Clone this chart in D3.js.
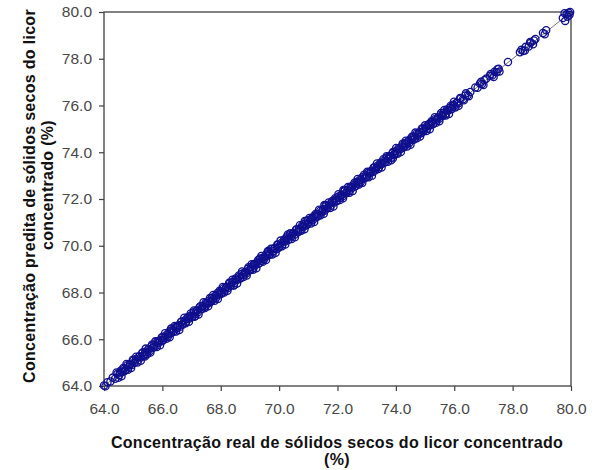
<!DOCTYPE html>
<html>
<head>
<meta charset="utf-8">
<script src="https://cdn.jsdelivr.net/npm/d3@7"></script>
<style>
  html, body { margin: 0; padding: 0; background: #fff; }
  svg { display: block; }
</style>
</head>
<body>
<svg id="chart" width="595" height="470"></svg>
<script>
// Real vs. predicted dry-solids concentration of concentrated liquor (%)
const realValues = [
  64.00,64.05,64.12,64.22,64.30,64.38,64.46,64.52,64.58,64.63,64.69,64.74,64.80,64.84,64.90,64.95,
  65.00,65.05,65.10,65.15,65.21,65.26,65.31,65.36,65.41,65.46,65.52,65.57,65.62,65.67,65.72,65.77,
  65.83,65.88,65.93,65.98,66.03,66.08,66.14,66.19,66.24,66.29,66.34,66.39,66.45,66.50,66.55,66.60,
  66.65,66.70,66.76,66.81,66.86,66.91,66.96,67.01,67.07,67.12,67.17,67.22,67.27,67.32,67.38,67.43,
  67.48,67.53,67.58,67.63,67.69,67.74,67.79,67.84,67.89,67.94,68.00,68.05,68.10,68.15,68.20,68.25,
  68.31,68.36,68.41,68.46,68.51,68.56,68.62,68.67,68.72,68.77,68.82,68.87,68.93,68.98,69.03,69.08,
  69.13,69.18,69.24,69.29,69.34,69.39,69.44,69.49,69.55,69.60,69.65,69.70,69.75,69.80,69.86,69.91,
  69.96,70.01,70.06,70.11,70.17,70.22,70.27,70.32,70.37,70.42,70.48,70.53,70.58,70.63,70.68,70.73,
  70.79,70.84,70.89,70.94,70.99,71.04,71.10,71.15,71.20,71.25,71.30,71.35,71.41,71.46,71.51,71.56,
  71.61,71.66,71.72,71.77,71.82,71.87,71.92,71.97,72.03,72.08,72.13,72.18,72.23,72.28,72.34,72.39,
  72.44,72.49,72.54,72.59,72.65,72.70,72.75,72.80,72.85,72.90,72.96,73.01,73.06,73.11,73.16,73.21,
  73.27,73.32,73.37,73.42,73.47,73.52,73.58,73.63,73.68,73.73,73.78,73.83,73.89,73.94,73.99,74.04,
  74.09,74.14,74.20,74.25,74.30,74.35,74.40,74.45,74.51,74.56,74.61,74.66,74.71,74.76,74.82,74.87,
  74.92,74.97,75.02,75.07,75.13,75.18,75.23,75.28,75.33,75.38,75.44,75.49,75.54,75.59,75.64,75.69,
  75.75,75.80,75.85,75.90,75.96,76.01,76.08,76.14,76.22,76.30,76.38,76.46,
  76.55,76.72,76.80,76.88,76.95,77.03,77.22,77.30,77.38,77.45,77.52,77.84,78.25,78.36,78.45,78.55,
  78.62,78.73,79.04,79.10,79.72,79.80,79.85,79.92,79.97,79.78,
  69.62,70.30,70.88,71.55,72.20,68.45,67.10,73.90,66.30,65.40,
  64.43,64.49,64.55,64.60,64.66,64.71,64.77,64.82,64.88,64.93,64.99,65.04,
  65.10,65.15,65.21,65.26,65.32,65.37,65.43,65.48,65.54,65.59,65.65,65.70,
  65.76,65.81,65.87,65.92,65.98,66.03,66.09,66.14,66.20,66.25,66.31,66.36,
  66.42,66.47,66.53,66.58,66.64,66.69,66.75,66.80,66.86,66.91,66.97,67.02,
  67.08,67.13,67.19,67.24,67.30,67.35,67.41,67.46,67.52,67.57,67.63,67.68,
  67.74,67.79,67.85,67.90,67.96,68.01,68.07,68.12,68.18,68.23,68.29,68.34,
  68.40,68.45,68.51,68.56,68.62,68.67,68.73,68.78,68.84,68.89,68.95,69.00,
  69.06,69.11,69.17,69.22,69.28,69.33,69.39,69.44,69.50,69.55,69.61,69.66,
  69.72,69.77,69.83,69.88,69.94,69.99,70.05,70.10,70.16,70.21,70.27,70.32,
  70.38,70.43,70.49,70.54,70.60,70.65,70.71,70.76,70.82,70.87,70.93,70.98,
  71.04,71.09,71.15,71.20,71.26,71.31,71.37,71.42,71.48,71.53,71.59,71.64,
  71.70,71.75,71.81,71.86,71.92,71.97,72.03,72.08,72.14,72.19,72.25,72.30,
  72.36,72.41,72.47,72.52,72.58,72.63,72.69,72.74,72.80,72.85,72.91,72.96,
  73.02,73.07,73.13,73.18,73.24,73.29,73.35,73.40,73.46,73.51,73.57,73.62,
  73.68,73.73,73.79,73.84,73.90,73.95,74.01,74.06,74.12,74.17,74.23,74.28,
  74.34,74.39,74.45,74.50,74.56,74.61,74.67,74.72,74.78,74.83,74.89,74.94,
  75.00,75.05,75.11,75.16,75.22,75.27,75.33,75.38,75.44,75.49,75.55,75.60,
  75.66,75.71,75.77,75.82,75.88,75.93,75.99,76.04,76.10,76.15,
  76.20,76.33,76.40,76.50,76.92,77.00,77.10,77.25,77.35,77.48,77.55,
  78.30,78.42,78.60,78.70,78.78,79.15,79.88,79.95
];
const predictedValues = [
  64.02,63.99,64.16,64.19,64.36,64.31,64.52,64.47,64.66,64.60,64.74,64.68,64.89,64.81,64.95,64.90,
  65.08,65.02,65.16,65.09,65.27,65.22,65.40,65.30,65.46,65.43,65.58,65.50,65.70,65.64,65.77,65.71,
  65.91,65.85,65.97,65.92,66.11,66.05,66.18,66.12,66.33,66.26,66.38,66.33,66.52,66.47,66.60,66.53,
  66.74,66.67,66.80,66.75,66.94,66.88,67.01,66.95,67.15,67.09,67.22,67.16,67.36,67.29,67.42,67.37,
  67.56,67.50,67.63,67.57,67.77,67.71,67.84,67.78,67.98,67.91,68.04,67.99,68.18,68.12,68.25,68.19,
  68.39,68.33,68.46,68.40,68.60,68.53,68.66,68.61,68.80,68.74,68.87,68.81,69.02,68.95,69.08,69.02,
  69.21,69.15,69.29,69.23,69.45,69.36,69.49,69.43,69.63,69.57,69.70,69.64,69.86,69.77,69.91,69.85,
  70.04,69.98,70.11,70.05,70.27,70.19,70.32,70.26,70.45,70.40,70.53,70.47,70.68,70.60,70.73,70.67,
  70.87,70.81,70.94,70.88,71.09,71.02,71.15,71.09,71.28,71.22,71.35,71.29,71.50,71.43,71.56,71.50,
  71.69,71.64,71.77,71.71,71.91,71.84,71.97,71.91,72.11,72.05,72.18,72.12,72.32,72.26,72.39,72.33,
  72.52,72.46,72.59,72.53,72.73,72.67,72.80,72.74,72.93,72.88,73.01,72.95,73.14,73.09,73.21,73.15,
  73.35,73.30,73.42,73.36,73.55,73.50,73.63,73.57,73.76,73.71,73.84,73.77,73.97,73.91,74.04,73.98,
  74.17,74.12,74.25,74.19,74.38,74.33,74.45,74.39,74.59,74.54,74.66,74.60,74.79,74.75,74.87,74.81,
  75.00,74.95,75.07,75.01,75.21,75.16,75.28,75.22,75.41,75.37,75.49,75.43,75.62,75.58,75.69,75.63,
  75.83,75.79,75.90,75.84,76.03,76.00,76.12,76.09,76.29,76.27,76.43,76.44,
  76.58,76.77,76.76,76.94,76.92,77.08,77.27,77.28,77.44,77.42,77.57,77.86,78.28,78.33,78.51,78.52,
  78.68,78.78,79.10,79.05,79.74,79.62,79.90,79.97,80.00,79.95,
  69.78,70.48,71.06,71.74,72.38,68.30,66.96,73.74,66.46,65.26,
  64.58,64.35,64.59,64.42,64.77,64.64,64.94,64.70,64.90,64.77,65.12,64.99,
  65.25,65.01,65.25,65.08,65.43,65.30,65.60,65.36,65.56,65.43,65.78,65.65,
  65.91,65.67,65.91,65.74,66.09,65.96,66.26,66.02,66.22,66.09,66.44,66.31,
  66.57,66.33,66.57,66.40,66.75,66.62,66.92,66.68,66.88,66.75,67.10,66.97,
  67.23,66.99,67.23,67.06,67.41,67.28,67.58,67.34,67.54,67.41,67.76,67.63,
  67.89,67.65,67.89,67.72,68.07,67.94,68.24,68.00,68.20,68.07,68.42,68.29,
  68.55,68.31,68.55,68.38,68.73,68.60,68.90,68.66,68.86,68.73,69.08,68.95,
  69.21,68.97,69.21,69.04,69.39,69.26,69.56,69.32,69.52,69.39,69.74,69.61,
  69.87,69.63,69.87,69.70,70.05,69.92,70.22,69.98,70.18,70.05,70.40,70.27,
  70.53,70.29,70.53,70.36,70.71,70.58,70.88,70.64,70.84,70.71,71.06,70.93,
  71.19,70.95,71.19,71.02,71.37,71.24,71.54,71.30,71.50,71.37,71.72,71.59,
  71.85,71.61,71.85,71.68,72.03,71.90,72.20,71.96,72.16,72.03,72.38,72.25,
  72.51,72.27,72.51,72.34,72.69,72.56,72.86,72.62,72.82,72.69,73.04,72.91,
  73.17,72.93,73.17,73.00,73.35,73.22,73.52,73.28,73.48,73.35,73.70,73.57,
  73.83,73.59,73.83,73.66,74.01,73.88,74.18,73.94,74.14,74.01,74.36,74.23,
  74.49,74.25,74.49,74.32,74.67,74.54,74.84,74.60,74.80,74.67,75.02,74.89,
  75.15,74.91,75.15,74.98,75.33,75.20,75.50,75.26,75.46,75.33,75.68,75.55,
  75.81,75.57,75.81,75.64,75.99,75.86,76.16,75.92,76.12,75.99,
  76.32,76.22,76.52,76.40,77.02,76.88,77.15,77.35,77.22,77.55,77.45,
  78.38,78.35,78.72,78.62,78.85,79.22,79.80,79.88
];
const axisTicks = [64, 66, 68, 70, 72, 74, 76, 78, 80];
const xTitle = ["Concentração real de sólidos secos do licor concentrado", "(%)"];
const yTitle = ["Concentração predita de sólidos secos do licor", "concentrado (%)"];

const svg = d3.select("#chart");
const plot = { left: 104, top: 12, right: 571, bottom: 386 };

const x = d3.scaleLinear().domain([64, 80]).range([plot.left, plot.right]);
const y = d3.scaleLinear().domain([64, 80]).range([plot.bottom, plot.top]);
const fmt = d3.format(".1f");

svg.append("rect").attr("width", 595).attr("height", 470).attr("fill", "#fff");

// axes
const xAxis = svg.append("g")
  .attr("transform", `translate(0,${plot.bottom})`)
  .call(d3.axisBottom(x).tickValues(axisTicks).tickFormat(fmt).tickSize(5).tickSizeOuter(0).tickPadding(12));
const yAxis = svg.append("g")
  .attr("transform", `translate(${plot.left},0)`)
  .call(d3.axisLeft(y).tickValues(axisTicks).tickFormat(fmt).tickSize(5).tickSizeOuter(0).tickPadding(7));

[xAxis, yAxis].forEach(g => {
  g.select(".domain").remove();
  g.selectAll(".tick line").attr("stroke", "#404040").attr("stroke-width", 1.2);
  g.selectAll(".tick text")
    .attr("fill", "#474747")
    .style("font-family", "Arial, 'Liberation Sans', sans-serif")
    .style("font-size", "15.5px");
});

// plot frame
svg.append("rect")
  .attr("x", plot.left).attr("y", plot.top)
  .attr("width", plot.right - plot.left).attr("height", plot.bottom - plot.top)
  .attr("fill", "none").attr("stroke", "#404040").attr("stroke-width", 1.3);

// identity line
svg.append("line")
  .attr("x1", x(64)).attr("y1", y(64)).attr("x2", x(80)).attr("y2", y(80))
  .attr("stroke", "#7a7a7a").attr("stroke-width", 1);

// points
const points = d3.zip(realValues, predictedValues);
svg.append("g").selectAll("circle")
  .data(points)
  .join("circle")
  .attr("cx", d => x(d[0]))
  .attr("cy", d => y(d[1]))
  .attr("r", 3.6)
  .attr("fill", "none")
  .attr("stroke", "#10108e")
  .attr("stroke-width", 1.3);

// axis titles
const titleStyle = sel => sel
  .attr("text-anchor", "middle")
  .attr("fill", "#111")
  .style("font-family", "Arial, 'Liberation Sans', sans-serif")
  .style("font-size", "16px")
  .style("font-weight", "bold")
  .style("letter-spacing", "0.3px");

svg.append("text").call(titleStyle)
  .attr("x", 337).attr("y", 448).text(xTitle[0]);
svg.append("text").call(titleStyle)
  .attr("x", 337).attr("y", 465).text(xTitle[1]);

svg.append("text").call(titleStyle)
  .attr("transform", "translate(35,196) rotate(-90)").text(yTitle[0]);
svg.append("text").call(titleStyle)
  .attr("transform", "translate(53,185) rotate(-90)").text(yTitle[1]);
</script>
</body>
</html>
